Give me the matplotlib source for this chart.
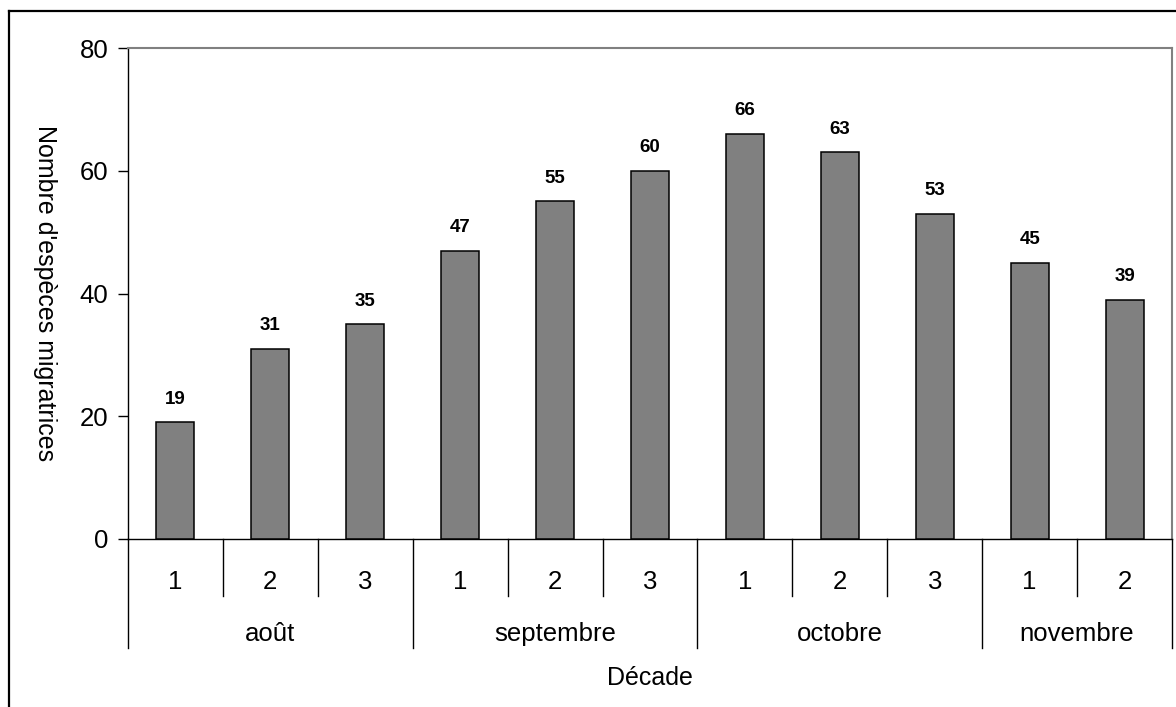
import matplotlib
matplotlib.use("Agg")
import matplotlib.pyplot as plt
from matplotlib.lines import Line2D
import matplotlib.transforms as mtransforms

plt.rcParams['font.family'] = ['Liberation Sans', 'DejaVu Sans']

decades = ["1", "2", "3", "1", "2", "3", "1", "2", "3", "1", "2"]
months = ["août", "septembre", "octobre", "novembre"]
month_sizes = [3, 3, 3, 2]
values = [19, 31, 35, 47, 55, 60, 66, 63, 53, 45, 39]
y_ticks = [0, 20, 40, 60, 80]

W, H = 1176, 707
fig = plt.figure(figsize=(W / 100, H / 100), dpi=100)
ax = fig.add_axes([128 / W, 1 - 539 / H, (1172 - 128) / W, (539 - 48) / H])
AH = 539 - 48

x = list(range(len(values)))
ax.bar(x, values, width=0.4, color="#808080", edgecolor="black", linewidth=1.1, zorder=3)

ax.set_xlim(-0.5, len(values) - 0.5)
ax.set_ylim(0, 80)
ax.set_yticks(y_ticks)
ax.tick_params(axis='y', direction='out', length=7, width=1, labelsize=18.5, pad=7, colors='black')
ax.set_xticks([])

for s in ['top', 'right']:
    ax.spines[s].set_color('#808080')
    ax.spines[s].set_linewidth(1.5)
for s in ['left', 'bottom']:
    ax.spines[s].set_color('black')
    ax.spines[s].set_linewidth(1.0)

for xi, v in zip(x, values):
    ax.annotate(str(v), (xi, v), xytext=(0, 10.5), textcoords='offset points',
                ha='center', va='bottom', fontsize=13.5, fontweight='bold')

trans = mtransforms.blended_transform_factory(ax.transData, ax.transAxes)
inner_depth = -57 / AH
month_depth = -109 / AH

# category labels
for xi, d in zip(x, decades):
    ax.text(xi, -43 / AH, d, transform=trans, ha='center', va='center', fontsize=18.5)

# boundaries
boundaries = [-0.5]
acc = -0.5
for n in month_sizes:
    acc += n
    boundaries.append(acc)
for b in range(len(values) + 1):
    pos = b - 0.5
    depth = month_depth if pos in boundaries else inner_depth
    ax.add_line(Line2D([pos, pos], [0, depth], transform=trans, color='black',
                       linewidth=1.0, clip_on=False))

start = 0
for m, n in zip(months, month_sizes):
    center = start + (n - 1) / 2
    ax.text(center, -95 / AH, m, transform=trans, ha='center', va='center', fontsize=18.5)
    start += n

ax.text(0.5, -139 / AH, "Décade", transform=ax.transAxes, ha='center', va='center', fontsize=18)
ax.set_ylabel("Nombre d'espèces migratrices", rotation=270, fontsize=18)
ax.yaxis.set_label_coords((45 - 128) / 1044, 0.5)
ax.yaxis.label.set_verticalalignment('center')

# outer chart frame
fig.add_artist(Line2D([9 / W, 9 / W], [0, 1 - 11 / H], transform=fig.transFigure,
                      color='black', linewidth=1.6))
fig.add_artist(Line2D([9 / W, 1], [1 - 11 / H, 1 - 11 / H], transform=fig.transFigure,
                      color='black', linewidth=1.6))

fig.savefig("out.png", dpi=100)
